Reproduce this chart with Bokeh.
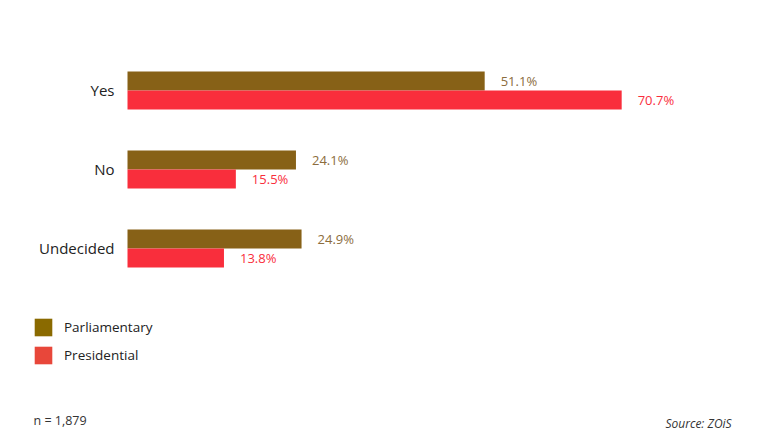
from bokeh.plotting import figure
from bokeh.models import ColumnDataSource, Range1d, Legend, LegendItem, Label
from bokeh.core.properties import value
from bokeh.embed import file_html
from bokeh.resources import INLINE

categories = ["Yes", "No", "Undecided"]
parliamentary = [51.1, 24.1, 24.9]
presidential = [70.7, 15.5, 13.8]
series_names = ["Parliamentary", "Presidential"]

FONT = "Open Sans"
PARL_BAR = "#876117"
PRES_BAR = "#f92e3c"
PARL_TXT = "#8c6d3d"
PRES_TXT = "#f92e3c"
PARL_SW = "#8a6a00"
PRES_SW = "#e8473a"

W, H = 770, 432
pos = list(range(len(categories)))
bar_h = 0.2405

p = figure(width=W, height=H, output_backend="svg", toolbar_location=None,
           x_range=Range1d(-18.17, 91.99), y_range=Range1d(4.329, -1.139),
           min_border=0, min_border_left=0, min_border_right=0,
           min_border_top=0, min_border_bottom=0)
p.axis.visible = False
p.grid.visible = False
p.outline_line_color = None
p.background_fill_color = "white"
p.border_fill_color = "white"

src = ColumnDataSource(dict(
    cat=categories,
    y=pos,
    y_parl=[v - bar_h / 2 for v in pos],
    y_pres=[v + bar_h / 2 for v in pos],
    parl=parliamentary,
    pres=presidential,
    parl_lbl=[f"{v:.1f}%" for v in parliamentary],
    pres_lbl=[f"{v:.1f}%" for v in presidential],
))

p.hbar(y="y_parl", left=0, right="parl", height=bar_h, source=src,
       fill_color=PARL_BAR, line_color=None)
p.hbar(y="y_pres", left=0, right="pres", height=bar_h, source=src,
       fill_color=PRES_BAR, line_color=None)

p.text(x="parl", y="y_parl", text="parl_lbl", source=src, x_offset=16,
       text_align="left", text_baseline="middle", text_font=value(FONT),
       text_font_size="13px", text_color=PARL_TXT)
p.text(x="pres", y="y_pres", text="pres_lbl", source=src, x_offset=16,
       text_align="left", text_baseline="middle", text_font=value(FONT),
       text_font_size="13px", text_color=PRES_TXT)

p.text(x=0, y="y", text="cat", source=src, x_offset=-13,
       text_align="right", text_baseline="middle", text_font=value(FONT),
       text_font_size="15px", text_color="#222222")

# legend swatches: zero-width proxy renderers (invisible on the plot)
proxy = ColumnDataSource(dict(y=[0], r=[0]))
r1 = p.hbar(y="y", left=0, right="r", height=0, source=proxy, fill_color=PARL_SW, line_color=None)
r2 = p.hbar(y="y", left=0, right="r", height=0, source=proxy, fill_color=PRES_SW, line_color=None)
legend = Legend(items=[LegendItem(label=series_names[0], renderers=[r1]),
                       LegendItem(label=series_names[1], renderers=[r2])],
                location=(32, 66), orientation="vertical",
                glyph_width=22, glyph_height=22, spacing=6, label_standoff=10,
                padding=0, margin=0, border_line_color=None,
                background_fill_alpha=0,
                label_text_font=FONT, label_text_font_size="13.5px",
                label_text_color="#222222", label_height=22)
p.add_layout(legend, "center")

p.add_layout(Label(x=33, y=12, x_units="screen", y_units="screen",
                   text="n = 1,879", text_font=FONT, text_font_size="12.5px",
                   text_color="#333333", text_baseline="middle"))
p.add_layout(Label(x=665, y=1, x_units="screen", y_units="screen",
                   text="Source: ZOiS", text_font=FONT, text_font_size="12px",
                   text_font_style="italic",
                   text_color="#333333", text_baseline="bottom"))

open("out.html", "w").write(file_html(p, INLINE))
